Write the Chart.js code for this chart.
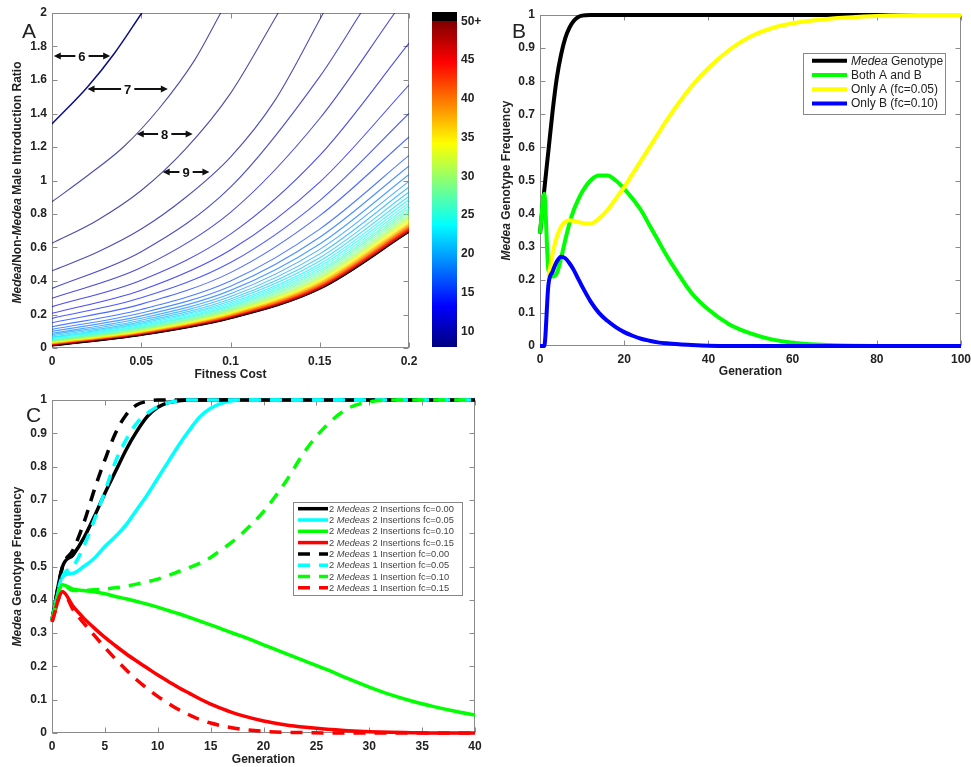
<!DOCTYPE html>
<html>
<head>
<meta charset="utf-8">
<script src="https://cdn.jsdelivr.net/npm/chart.js@4.4.1/dist/chart.umd.min.js"></script>
<style>
  html, body { margin: 0; padding: 0; background: #fff; }
  body { width: 971px; height: 767px; position: relative; overflow: hidden; }
  canvas { position: absolute; }
</style>
</head>
<body>
<canvas id="chartA" width="420" height="385" style="left:0;top:0"></canvas>
<canvas id="chartBar" width="66" height="385" style="left:420px;top:0"></canvas>
<canvas id="chartB" width="491" height="385" style="left:480px;top:0"></canvas>
<canvas id="chartC" width="490" height="382" style="left:0;top:385px"></canvas>
<script>
// ---------- panel A : generations needed to reach fixation ----------
// contours that leave through the top edge, as [fitness cost, ratio] pairs
const levelsUpper = [6, 7, 8, 9, 10, 11];
const pathsUpper = [
  [[0, 1.338], [0.02, 1.56], [0.035, 1.76], [0.0503, 2]],
  [[0, 0.873], [0.02, 1.03], [0.04, 1.2], [0.06, 1.43], [0.08, 1.72], [0.0945, 2]],
  [[0, 0.625], [0.025, 0.76], [0.05, 0.94], [0.075, 1.19], [0.1, 1.52], [0.1267, 2]],
  [[0, 0.461], [0.025, 0.57], [0.05, 0.71], [0.075, 0.9], [0.1, 1.14], [0.125, 1.48], [0.152, 2]],
  [[0, 0.356], [0.05, 0.575], [0.1, 0.96], [0.15, 1.62], [0.173, 2]],
  [[0, 0.297], [0.05, 0.48], [0.1, 0.81], [0.15, 1.37], [0.192, 2]]
];
// remaining contours, ratio read at each fitness cost in costGrid
const costGrid = [0, 0.05, 0.1, 0.15, 0.2];
const levelsLower = [12, 13, 14, 15, 16, 17, 18, 19, 20, 21, 22, 23, 24, 25, 26, 27, 28, 29, 30,
  31, 32, 33, 34, 35, 36, 37, 38, 39, 40, 41, 42, 43, 44, 45, 46, 47, 48, 49, 50];
const ratiosLower = [
  [0.247, 0.405, 0.68, 1.15, 1.82],
  [0.207, 0.345, 0.585, 0.99, 1.57],
  [0.177, 0.30, 0.51, 0.88, 1.40],
  [0.151, 0.262, 0.45, 0.79, 1.26],
  [0.127, 0.23, 0.40, 0.71, 1.15],
  [0.111, 0.209, 0.369, 0.661, 1.087],
  [0.099, 0.192, 0.344, 0.621, 1.036],
  [0.088, 0.178, 0.324, 0.589, 0.995],
  [0.080, 0.166, 0.307, 0.562, 0.961],
  [0.072, 0.156, 0.293, 0.539, 0.931],
  [0.066, 0.148, 0.281, 0.519, 0.906],
  [0.061, 0.141, 0.270, 0.502, 0.885],
  [0.056, 0.134, 0.261, 0.488, 0.866],
  [0.052, 0.129, 0.253, 0.475, 0.849],
  [0.048, 0.124, 0.246, 0.463, 0.834],
  [0.045, 0.119, 0.239, 0.453, 0.821],
  [0.042, 0.115, 0.233, 0.443, 0.809],
  [0.039, 0.112, 0.228, 0.435, 0.798],
  [0.037, 0.108, 0.223, 0.427, 0.788],
  [0.034, 0.105, 0.219, 0.420, 0.779],
  [0.032, 0.102, 0.215, 0.414, 0.771],
  [0.030, 0.100, 0.211, 0.408, 0.764],
  [0.029, 0.097, 0.208, 0.402, 0.757],
  [0.027, 0.095, 0.204, 0.397, 0.750],
  [0.026, 0.093, 0.202, 0.392, 0.744],
  [0.024, 0.091, 0.199, 0.388, 0.739],
  [0.023, 0.090, 0.196, 0.384, 0.733],
  [0.022, 0.088, 0.194, 0.380, 0.728],
  [0.020, 0.086, 0.192, 0.377, 0.724],
  [0.019, 0.085, 0.189, 0.373, 0.719],
  [0.018, 0.084, 0.187, 0.370, 0.715],
  [0.017, 0.082, 0.186, 0.367, 0.712],
  [0.017, 0.081, 0.184, 0.364, 0.708],
  [0.016, 0.080, 0.182, 0.361, 0.705],
  [0.015, 0.079, 0.181, 0.359, 0.701],
  [0.014, 0.078, 0.179, 0.357, 0.698],
  [0.013, 0.077, 0.178, 0.354, 0.695],
  [0.013, 0.076, 0.176, 0.352, 0.693],
  [0.012, 0.075, 0.175, 0.350, 0.690]
];
// labelled arrows between the first contours
const arrowText = ['6', '7', '8', '9'];
const arrowY = [1.745, 1.545, 1.276, 1.051];
const arrowFrom = [0.001, 0.0199, 0.0475, 0.062];
const arrowTo = [0.0326, 0.0649, 0.0788, 0.0882];

// colour bar
const cbTicks = [10, 15, 20, 25, 30, 35, 40, 45, 50];
const cbSpan = [8, 50];
const cbOver = [50, 51.2];

// ---------- panel B ----------
const bGenerations = [0, 1, 2, 3, 4, 5, 6, 7, 8, 9, 10, 12, 14, 16, 18, 20, 22, 24, 26, 28, 30, 33, 36, 40, 45, 50, 55, 60, 70, 80, 90, 100];
const bMedea = [0.34, 0.47, 0.59, 0.71, 0.81, 0.88, 0.93, 0.962, 0.982, 0.993, 0.998, 1, 1, 1, 1, 1, 1, 1, 1, 1, 1, 1, 1, 1, 1, 1, 1, 1, 1, 1, 1, 1];
const bBoth = [0.34, 0.46, 0.23, 0.21, 0.22, 0.265, 0.32, 0.37, 0.41, 0.44, 0.465, 0.50, 0.515, 0.515, 0.50, 0.475, 0.445, 0.41, 0.365, 0.32, 0.275, 0.215, 0.16, 0.11, 0.065, 0.038, 0.02, 0.01, 0.002, 0, 0, 0];
const bOnlyA = [null, null, 0.21, 0.28, 0.33, 0.36, 0.375, 0.38, 0.378, 0.375, 0.372, 0.37, 0.385, 0.41, 0.445, 0.48, 0.52, 0.56, 0.60, 0.64, 0.68, 0.735, 0.785, 0.84, 0.895, 0.935, 0.96, 0.975, 0.99, 0.997, 1, 1];
const bOnlyB = [0, 0, 0.185, 0.225, 0.255, 0.27, 0.265, 0.25, 0.23, 0.205, 0.18, 0.135, 0.10, 0.076, 0.057, 0.042, 0.031, 0.022, 0.016, 0.011, 0.008, 0.005, 0.003, 0.001, 0, 0, 0, 0, 0, 0, 0, 0];

// ---------- panel C ----------
const cGenerations = [0, 1, 2, 3, 4, 5, 6, 7, 8, 9, 10, 11, 12, 13, 14, 15, 16, 17, 18, 20, 22, 24, 26, 28, 30, 32, 34, 36, 38, 40];
const cTwoIns000 = [0.34, 0.50, 0.535, 0.585, 0.65, 0.72, 0.785, 0.85, 0.905, 0.95, 0.978, 0.992, 0.998, 1, 1, 1, 1, 1, 1, 1, 1, 1, 1, 1, 1, 1, 1, 1, 1, 1];
const cTwoIns005 = [0.34, 0.47, 0.48, 0.50, 0.525, 0.56, 0.59, 0.625, 0.67, 0.715, 0.765, 0.815, 0.865, 0.91, 0.95, 0.975, 0.99, 0.998, 1, 1, 1, 1, 1, 1, 1, 1, 1, 1, 1, 1];
const cTwoIns010 = [0.34, 0.445, 0.432, 0.428, 0.424, 0.418, 0.41, 0.403, 0.395, 0.387, 0.378, 0.368, 0.358, 0.347, 0.336, 0.325, 0.313, 0.301, 0.29, 0.265, 0.24, 0.215, 0.19, 0.163, 0.138, 0.115, 0.096, 0.08, 0.066, 0.054];
const cTwoIns015 = [0.334, 0.424, 0.38, 0.345, 0.315, 0.287, 0.262, 0.238, 0.216, 0.195, 0.174, 0.155, 0.136, 0.119, 0.102, 0.087, 0.074, 0.062, 0.052, 0.036, 0.025, 0.017, 0.011, 0.007, 0.004, 0.002, 0.001, 0, 0, 0];
const cOneIns000 = [0.34, 0.50, 0.55, 0.63, 0.73, 0.82, 0.90, 0.955, 0.985, 0.996, 1, 1, 1, 1, 1, 1, 1, 1, 1, 1, 1, 1, 1, 1, 1, 1, 1, 1, 1, 1];
const cOneIns005 = [0.34, 0.47, 0.50, 0.56, 0.64, 0.725, 0.815, 0.88, 0.93, 0.96, 0.98, 0.992, 0.998, 1, 1, 1, 1, 1, 1, 1, 1, 1, 1, 1, 1, 1, 1, 1, 1, 1];
const cOneIns010 = [0.34, 0.445, 0.428, 0.428, 0.43, 0.432, 0.436, 0.441, 0.447, 0.454, 0.462, 0.473, 0.485, 0.497, 0.51, 0.527, 0.55, 0.573, 0.60, 0.665, 0.75, 0.85, 0.925, 0.975, 0.994, 1, 1, 1, 1, 1];
const cOneIns015 = [0.334, 0.424, 0.37, 0.33, 0.293, 0.257, 0.222, 0.19, 0.16, 0.134, 0.11, 0.089, 0.07, 0.054, 0.04, 0.03, 0.022, 0.016, 0.011, 0.005, 0.002, 0.001, 0, 0, 0, 0, 0, 0, 0, 0];

const FONT = '"Liberation Sans", Arial, Helvetica, sans-serif';
const INK = '#222';
const tickFont = { family: FONT, size: 12, weight: 'bold' };
Chart.defaults.font.family = FONT;
Chart.defaults.color = INK;

// jet colour map, t in [0, 1]
function jetRGB(t, alpha) {
  t = Math.min(1, Math.max(0, t));
  const c = v => Math.round(255 * Math.min(1, Math.max(0, v)));
  const a = alpha === undefined ? 1 : alpha;
  return 'rgba(' + c(1.5 - Math.abs(4 * t - 3)) + ',' + c(1.5 - Math.abs(4 * t - 2)) + ',' + c(1.5 - Math.abs(4 * t - 1)) + ',' + a + ')';
}
function levelColor(level) {
  if (level >= 50) return '#000';
  return jetRGB((level - cbSpan[0]) / (cbSpan[1] - cbSpan[0]), level === 6 ? 0.95 : 0.7);
}

// plain number labels: 0, 0.05, 0.1, 1, 1.2 ...
const plainTick = v => String(Math.round(v * 1000) / 1000);

function axis(min, max, step, size, horizontal) {
  return {
    type: 'linear', min: min, max: max,
    ticks: { stepSize: step, font: tickFont, color: INK, padding: horizontal ? 6 : 5, maxRotation: 0, autoSkip: false, callback: plainTick },
    grid: { display: false, drawTicks: false },
    border: { display: false },
    afterFit: function (s) {
      if (horizontal) { s.height = size; s.paddingLeft = 0; s.paddingRight = 0; }
      else { s.width = size; s.paddingTop = 0; s.paddingBottom = 0; }
    }
  };
}

// text made of plain and italic pieces
function drawRuns(ctx, runs, x, y, size, weight) {
  const fontOf = r => (r[1] ? 'italic ' : '') + weight + ' ' + size + 'px ' + FONT;
  let total = 0;
  runs.forEach(r => { ctx.font = fontOf(r); total += ctx.measureText(r[0]).width; });
  let cx = x - total / 2;
  ctx.textAlign = 'left';
  runs.forEach(r => { ctx.font = fontOf(r); ctx.fillText(r[0], cx, y); cx += ctx.measureText(r[0]).width; });
}
function drawRunsLeft(ctx, runs, x, y, size) {
  let cx = x;
  ctx.textAlign = 'left';
  runs.forEach(r => {
    ctx.font = (r[1] ? 'italic ' : '') + size + 'px ' + FONT;
    ctx.fillText(r[0], cx, y);
    cx += ctx.measureText(r[0]).width;
  });
}

// box round the plot with inward tick marks on every side
const frame = {
  id: 'frame',
  beforeDatasetsDraw(chart, args, opts) {
    const { ctx, chartArea: a, scales } = chart;
    const L = opts.tickLen || 0;
    ctx.save();
    ctx.strokeStyle = opts.color || '#888';
    ctx.lineWidth = 1;
    const l = Math.round(a.left) + 0.5, r = Math.round(a.right) - 0.5;
    const t = Math.round(a.top) + 0.5, b = Math.round(a.bottom) - 0.5;
    ctx.strokeRect(l, t, r - l, b - t);
    if (L) {
      ctx.beginPath();
      scales.x.ticks.forEach(tk => {
        const px = Math.round(scales.x.getPixelForValue(tk.value)) + 0.5;
        ctx.moveTo(px, b); ctx.lineTo(px, b - L);
        ctx.moveTo(px, t); ctx.lineTo(px, t + L);
      });
      scales.y.ticks.forEach(tk => {
        const py = Math.round(scales.y.getPixelForValue(tk.value)) + 0.5;
        ctx.moveTo(l, py); ctx.lineTo(l + L, py);
        ctx.moveTo(r, py); ctx.lineTo(r - L, py);
      });
      ctx.stroke();
    }
    ctx.restore();
  }
};

// panel letter and axis titles
const captions = {
  id: 'captions',
  afterDraw(chart, args, o) {
    const { ctx, chartArea: a } = chart;
    ctx.save();
    ctx.fillStyle = INK;
    ctx.textBaseline = 'alphabetic';
    ctx.font = '21px ' + FONT;
    ctx.textAlign = 'left';
    ctx.fillText(o.letter, o.letterX, o.letterY);
    ctx.textBaseline = 'middle';
    drawRuns(ctx, o.xTitle, (a.left + a.right) / 2, o.xTitleY, 12, 'bold');
    ctx.translate(o.yTitleX, (a.top + a.bottom) / 2 + (o.yShift || 0));
    ctx.rotate(-Math.PI / 2);
    drawRuns(ctx, o.yTitle, 0, 0, 12, 'bold');
    ctx.restore();
  }
};

// boxed legend with italic pieces in the labels
const boxLegend = {
  id: 'boxLegend',
  afterDraw(chart, args, o) {
    if (!o.labels) return;
    const { ctx } = chart;
    ctx.save();
    ctx.fillStyle = '#fff';
    ctx.fillRect(o.x, o.y, o.w, o.h);
    ctx.strokeStyle = '#888';
    ctx.lineWidth = 1;
    ctx.strokeRect(o.x + 0.5, o.y + 0.5, o.w, o.h);
    o.labels.forEach((runs, i) => {
      const ds = chart.data.datasets[i];
      const y = o.y + o.first + i * o.gap;
      ctx.strokeStyle = ds.borderColor;
      ctx.lineWidth = o.lineWidth;
      ctx.setLineDash(ds.borderDash || []);
      ctx.beginPath();
      ctx.moveTo(o.x + o.sampleX, y);
      ctx.lineTo(o.x + o.sampleX + o.sampleLen, y);
      ctx.stroke();
      ctx.setLineDash([]);
      ctx.fillStyle = o.textColor || INK;
      ctx.textBaseline = 'middle';
      drawRunsLeft(ctx, runs, o.x + o.textX, y + 0.5, o.size);
    });
    ctx.restore();
  }
};

// double-headed arrows with a level number in the middle
const levelArrows = {
  id: 'levelArrows',
  afterDatasetsDraw(chart) {
    const { ctx, scales } = chart;
    ctx.save();
    ctx.strokeStyle = '#111';
    ctx.fillStyle = '#111';
    ctx.lineWidth = 2;
    ctx.font = 'bold 13px ' + FONT;
    ctx.textAlign = 'center';
    ctx.textBaseline = 'middle';
    arrowText.forEach((txt, i) => {
      const y = Math.round(scales.y.getPixelForValue(arrowY[i]));
      const x0 = scales.x.getPixelForValue(arrowFrom[i]);
      const x1 = scales.x.getPixelForValue(arrowTo[i]);
      const xm = (x0 + x1) / 2;
      const hw = ctx.measureText(txt).width / 2 + 3;
      ctx.beginPath();
      ctx.moveTo(x0 + 5, y); ctx.lineTo(xm - hw, y);
      ctx.moveTo(xm + hw, y); ctx.lineTo(x1 - 5, y);
      ctx.stroke();
      ctx.beginPath();
      ctx.moveTo(x0, y); ctx.lineTo(x0 + 7, y - 3.5); ctx.lineTo(x0 + 7, y + 3.5); ctx.closePath();
      ctx.moveTo(x1, y); ctx.lineTo(x1 - 7, y - 3.5); ctx.lineTo(x1 - 7, y + 3.5); ctx.closePath();
      ctx.fill();
      ctx.fillText(txt, xm, y + 1);
    });
    ctx.restore();
  }
};

const baseOptions = {
  responsive: false,
  animation: false,
  devicePixelRatio: 1,
  events: []
};

// ---------- chart A ----------
function contourSet(level, pts) {
  return {
    data: pts, showLine: true, borderColor: levelColor(level), borderWidth: level === 6 ? 1.5 : 1.1,
    pointRadius: 0, fill: false, cubicInterpolationMode: 'monotone'
  };
}
const contourSets = [];
levelsUpper.forEach((lv, i) => contourSets.push(contourSet(lv, pathsUpper[i].map(p => ({ x: p[0], y: p[1] })))));
levelsLower.forEach((lv, i) => contourSets.push(contourSet(lv, costGrid.map((x, j) => ({ x: x, y: ratiosLower[i][j] })))));
contourSets.forEach((d, i) => { d.order = -i; });

new Chart(document.getElementById('chartA'), {
  type: 'scatter',
  data: { datasets: contourSets },
  options: Object.assign({}, baseOptions, {
    layout: { padding: { top: 13, right: 11, left: 0, bottom: 0 } },
    plugins: {
      legend: { display: false }, tooltip: { enabled: false },
      frame: { tickLen: 5, color: '#8a8a8a' },
      captions: {
        letter: 'A', letterX: 22, letterY: 38,
        xTitle: [['Fitness Cost', false]], xTitleY: 375,
        yTitle: [['Medea', true], ['/Non-', false], ['Medea', true], [' Male Introduction Ratio', false]],
        yTitleX: 18, yShift: 2
      }
    },
    scales: { x: axis(0, 0.2, 0.05, 37, true), y: axis(0, 2, 0.2, 52, false) }
  }),
  plugins: [frame, levelArrows, captions]
});

// ---------- colour bar ----------
function jetGradient(chart) {
  const { ctx, chartArea, scales } = chart;
  if (!chartArea) return '#00f';
  const y0 = scales.y.getPixelForValue(cbSpan[0]);
  const y1 = scales.y.getPixelForValue(cbSpan[1]);
  const g = ctx.createLinearGradient(0, y0, 0, y1);
  for (let i = 0; i <= 24; i++) g.addColorStop(i / 24, jetRGB(i / 24));
  return g;
}
new Chart(document.getElementById('chartBar'), {
  type: 'bar',
  data: {
    labels: [''],
    datasets: [
      { data: [cbSpan], backgroundColor: c => jetGradient(c.chart), borderWidth: 0, barPercentage: 1, categoryPercentage: 1, grouped: false },
      { data: [cbOver], backgroundColor: '#000', borderWidth: 0, barPercentage: 1, categoryPercentage: 1, grouped: false }
    ]
  },
  options: Object.assign({}, baseOptions, {
    layout: { padding: { top: 12, left: 12, right: 4, bottom: 38 } },
    plugins: { legend: { display: false }, tooltip: { enabled: false }, frame: { tickLen: 0, color: '#333' } },
    scales: {
      x: { display: false },
      y: {
        position: 'right', min: 8, max: cbOver[1],
        afterBuildTicks: s => { s.ticks = cbTicks.map(v => ({ value: v })); },
        ticks: { font: tickFont, color: INK, padding: 4, callback: v => (v === 50 ? '50+' : String(v)) },
        grid: { display: false, drawTicks: false }, border: { display: false },
        afterFit: s => { s.width = 25; s.paddingTop = 0; s.paddingBottom = 0; }
      }
    }
  }),
  plugins: [frame]
});

// ---------- chart B ----------
function curve(gens, vals, color, width, dash) {
  const pts = [];
  gens.forEach((g, i) => { if (vals[i] !== null) pts.push({ x: g, y: vals[i] }); });
  return {
    data: pts, showLine: true, borderColor: color, borderWidth: width, borderDash: dash || [],
    pointRadius: 0, fill: false, cubicInterpolationMode: 'monotone', clip: false
  };
}
const bSets = [
  curve(bGenerations, bMedea, '#000000', 4),
  curve(bGenerations, bBoth, '#00ff00', 4),
  curve(bGenerations, bOnlyA, '#ffff00', 4),
  curve(bGenerations, bOnlyB, '#0000ff', 4)
];
bSets.forEach((d, i) => { d.order = -i; });

new Chart(document.getElementById('chartB'), {
  type: 'scatter',
  data: { datasets: bSets },
  options: Object.assign({}, baseOptions, {
    layout: { padding: { top: 15, right: 10, left: 0, bottom: 0 } },
    plugins: {
      legend: { display: false }, tooltip: { enabled: false },
      frame: { tickLen: 5, color: '#8a8a8a' },
      captions: {
        letter: 'B', letterX: 32, letterY: 38,
        xTitle: [['Generation', false]], xTitleY: 372,
        yTitle: [['Medea', true], [' Genotype Frequency', false]],
        yTitleX: 27
      },
      boxLegend: {
        x: 323, y: 53, w: 142, h: 61, first: 7.7, gap: 14.3,
        sampleX: 9, sampleLen: 35, textX: 48, size: 12, lineWidth: 4,
        labels: [
          [['Medea', true], [' Genotype', false]],
          [['Both A and B', false]],
          [['Only A (fc=0.05)', false]],
          [['Only B (fc=0.10)', false]]
        ]
      }
    },
    scales: { x: axis(0, 100, 20, 39, true), y: axis(0, 1, 0.1, 60, false) }
  }),
  plugins: [frame, captions, boxLegend]
});

// ---------- chart C ----------
const dashC = [12, 9];
const cSets = [
  curve(cGenerations, cTwoIns000, '#000000', 3.5),
  curve(cGenerations, cTwoIns005, '#00ffff', 3.5),
  curve(cGenerations, cTwoIns010, '#00ff00', 3.5),
  curve(cGenerations, cTwoIns015, '#ff0000', 3.5),
  curve(cGenerations, cOneIns000, '#000000', 3.5, dashC),
  curve(cGenerations, cOneIns005, '#00ffff', 3.5, dashC),
  curve(cGenerations, cOneIns010, '#00ff00', 3.5, dashC),
  curve(cGenerations, cOneIns015, '#ff0000', 3.5, dashC)
];
cSets.forEach((d, i) => { d.order = -i; });

const cLegendText = ['fc=0.00', 'fc=0.05', 'fc=0.10', 'fc=0.15'];
const cLabels = [];
cLegendText.forEach(t => cLabels.push([['2 ', false], ['Medeas', true], [' 2 Insertions ' + t, false]]));
cLegendText.forEach(t => cLabels.push([['2 ', false], ['Medeas', true], [' 1 Insertion ' + t, false]]));

new Chart(document.getElementById('chartC'), {
  type: 'scatter',
  data: { datasets: cSets },
  options: Object.assign({}, baseOptions, {
    layout: { padding: { top: 15, right: 15, left: 0, bottom: 0 } },
    plugins: {
      legend: { display: false }, tooltip: { enabled: false },
      frame: { tickLen: 5, color: '#8a8a8a' },
      captions: {
        letter: 'C', letterX: 26, letterY: 37,
        xTitle: [['Generation', false]], xTitleY: 375,
        yTitle: [['Medea', true], [' Genotype Frequency', false]],
        yTitleX: 18
      },
      boxLegend: {
        x: 293, y: 117, w: 169, h: 93, first: 6.7, gap: 11.3,
        sampleX: 5, sampleLen: 30, textX: 36, size: 9.3, lineWidth: 3.5,
        textColor: '#444', labels: cLabels
      }
    },
    scales: { x: axis(0, 40, 5, 34, true), y: axis(0, 1, 0.1, 52, false) }
  }),
  plugins: [frame, captions, boxLegend]
});
</script>
</body>
</html>
